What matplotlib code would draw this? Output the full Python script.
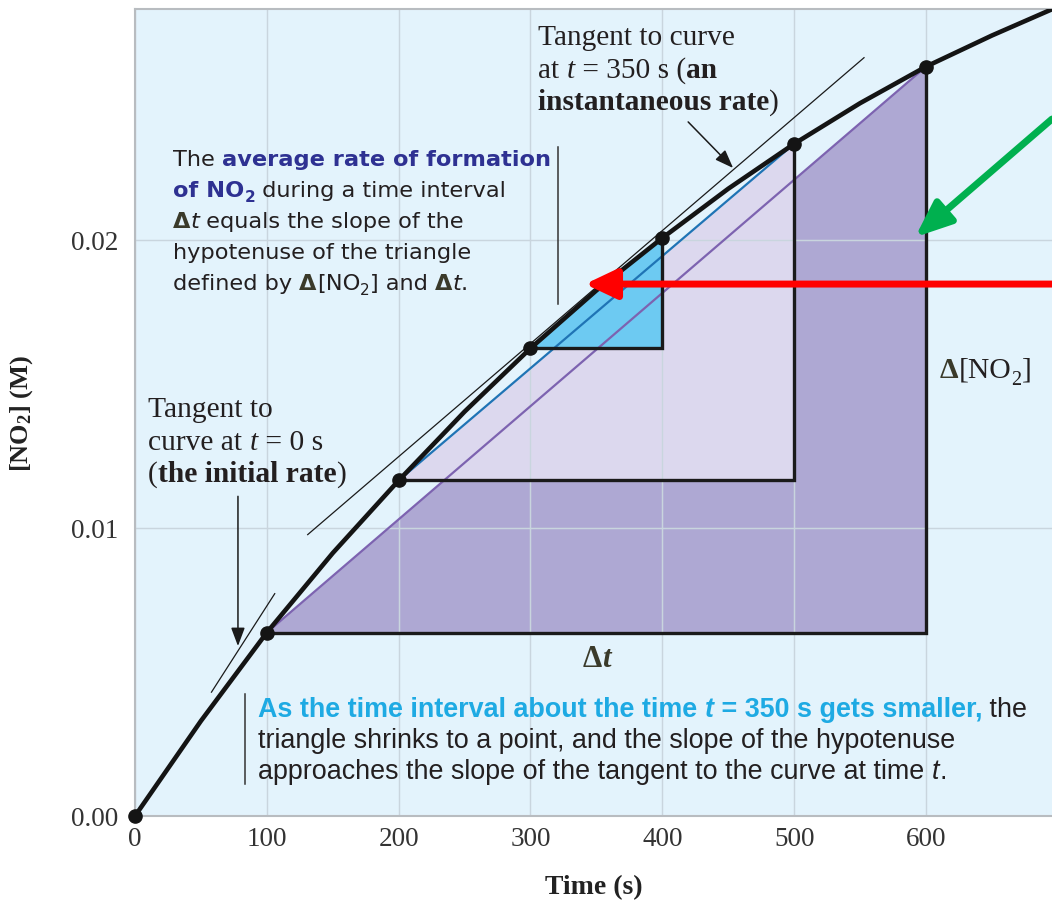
import matplotlib
matplotlib.use("Agg")
import matplotlib.pyplot as plt
from matplotlib.transforms import IdentityTransform

# ---------------- data ----------------
time_pts = [0, 100, 200, 300, 400, 500, 600]
no2_pts = [0.0, 0.00637, 0.01165, 0.01624, 0.02007, 0.02334, 0.02602]

curve_t = [0, 50, 100, 150, 200, 250, 300, 350, 400, 450, 500, 550, 600, 650, 700]
curve_c = [0.0, 0.0033, 0.00637, 0.00913, 0.01165, 0.01404, 0.01624, 0.01825, 0.02007,
           0.02178, 0.02334, 0.02475, 0.02602, 0.0271, 0.0281]

# triangles: (start index, end index) into time_pts/no2_pts
triangles = [(1, 6), (2, 5), (3, 4)]
tri_fill = ["#aea8d3", "#dcd8ee", "#6dcaf2"]
tri_hyp = ["#7d63b0", "#1f74b5", None]

# tangent lines
tan0_t = [58, 106]
tan0_c = [0.00430, 0.00772]
tan350_t = [131, 553]
tan350_c = [0.00977, 0.02633]

x_ticks = [0, 100, 200, 300, 400, 500, 600]
x_labels = ["0", "100", "200", "300", "400", "500", "600"]
y_ticks = [0.0, 0.01, 0.02]
y_labels = ["0.00", "0.01", "0.02"]

# ---------------- figure ----------------
W, H = 1052, 904
plt.rcParams["mathtext.fontset"] = "custom"
plt.rcParams["mathtext.rm"] = "Liberation Serif"
plt.rcParams["mathtext.bf"] = "Liberation Serif:bold"
plt.rcParams["mathtext.it"] = "Liberation Serif:italic"

fig = plt.figure(figsize=(W / 100, H / 100), dpi=100)
ax = fig.add_axes([135 / W, 87 / H, 917 / W, 807 / H])
BG = "#e3f3fc"
ax.set_facecolor(BG)
ax.set_xlim(0, 917 / 1.3183)
ax.set_ylim(0, 807 / 28800)

for s in ["left", "top", "bottom"]:
    ax.spines[s].set_color("#b8bcc0")
    ax.spines[s].set_linewidth(1.5)
ax.spines["right"].set_visible(False)

ax.set_xticks(x_ticks)
ax.set_xticklabels(x_labels)
ax.set_yticks(y_ticks)
ax.set_yticklabels(y_labels)
ax.tick_params(length=0, labelsize=19.5, colors="#333333")
ax.tick_params(axis="x", pad=7)
ax.tick_params(axis="y", pad=12)
for lab in ax.get_xticklabels() + ax.get_yticklabels():
    lab.set_family("Liberation Serif")
ax.grid(True, color="#c9d5de", lw=1.0)
for gl in ax.get_xgridlines() + ax.get_ygridlines():
    gl.set_zorder(0.5)
# faint grid showing through the filled triangles
for xt in x_ticks:
    ax.axvline(xt, color="#e8eef4", lw=1.0, alpha=0.25, zorder=1.5)
for yt in y_ticks:
    ax.axhline(yt, color="#e8eef4", lw=1.0, alpha=0.25, zorder=1.5)

ax.set_xlabel("Time (s)", family="Liberation Serif", weight="bold", size=20,
              color="#222222", labelpad=17)
ax.set_ylabel(r"[NO$_\mathbf{2}$] (M)", family="Liberation Serif", weight="bold",
              size=19, color="#222222", labelpad=26)

# triangles
for k, (i, j) in enumerate(triangles):
    xs = [time_pts[i], time_pts[j], time_pts[j]]
    ys = [no2_pts[i], no2_pts[i], no2_pts[j]]
    ax.fill(xs, ys, color=tri_fill[k], zorder=1 + 0.1 * k, lw=0)
for k, (i, j) in enumerate(triangles):
    if tri_hyp[k]:
        ax.plot([time_pts[i], time_pts[j]], [no2_pts[i], no2_pts[j]],
                color=tri_hyp[k], lw=1.6, zorder=2)
    ax.plot([time_pts[i], time_pts[j], time_pts[j]],
            [no2_pts[i], no2_pts[i], no2_pts[j]],
            color="#1a1a1a", lw=2.4, zorder=2.5, solid_joinstyle="miter")

# tangents
ax.plot(tan0_t, tan0_c, color="#1a1a1a", lw=0.9, zorder=2.6)
ax.plot(tan350_t, tan350_c, color="#1a1a1a", lw=0.9, zorder=2.6)

# curve + points
ax.plot(curve_t, curve_c, color="#141414", lw=3.3, zorder=3, solid_capstyle="round",
        solid_joinstyle="round")
ax.plot(time_pts, no2_pts, "o", color="#141414", ms=9.5, zorder=4, clip_on=False)

# ---------------- rich text helper ----------------
fig.canvas.draw()
R = fig.canvas.get_renderer()
IT = IdentityTransform()


def seg_props(opt, family, size):
    return dict(family=opt.get("f", family),
                size=size * (0.68 if opt.get("sub") else 1.0),
                weight="bold" if opt.get("b") else "normal",
                style="italic" if opt.get("i") else "normal")


def seg_w(s, props):
    t = fig.text(0, 0, s + "|", transform=IT, **props)
    w1 = t.get_window_extent(R).width
    t.set_text("|")
    w2 = t.get_window_extent(R).width
    t.remove()
    return w1 - w2


def line_w(segs, family, size):
    return sum(seg_w(s, seg_props(o, family, size)) for s, o in segs)


def draw_line(x, base_y, segs, family, size, color):
    cx = x
    for s, o in segs:
        p = seg_props(o, family, size)
        dy = 0.22 * size * 100 / 72 if o.get("sub") else 0.0
        fig.text(cx, H - base_y - dy, s, transform=IT, va="baseline", ha="left",
                 color=o.get("c", color), zorder=10, **p)
        cx += seg_w(s, p)


def draw_block(x, baselines, lines, family, ref_idx, ref_width, color):
    size = 10 * ref_width / line_w(lines[ref_idx], family, 10)
    for by, segs in zip(baselines, lines):
        draw_line(x, by, segs, family, size, color)
    return size


NAVY = "#2e3192"
CYAN = "#1eaae3"
TXT = "#231f20"
DK = "#3a3a2a"
N = {}
B = {"b": True}
I = {"i": True}

block1 = [
    [("The ", N), ("average rate of formation", dict(b=True, c=NAVY))],
    [("of NO", dict(b=True, c=NAVY)), ("2", dict(b=True, c=NAVY, sub=True)),
     (" during a time interval", N)],
    [("Δ", dict(b=True, c=DK)), ("t", I), (" equals the slope of the", N)],
    [("hypotenuse of the triangle", N)],
    [("defined by ", N), ("Δ", dict(b=True, c=DK)), ("[NO", N), ("2", dict(sub=True)),
     ("] and ", N), ("Δ", dict(b=True, c=DK)), ("t", I), (".", N)],
]
draw_block(173, [166, 197, 228, 259, 290], block1, "DejaVu Sans", 3, 299, TXT)

block2 = [
    [("As the time interval about the time ", dict(b=True, c=CYAN)),
     ("t", dict(b=True, i=True, c=CYAN)), (" = 350 s gets smaller,", dict(b=True, c=CYAN)),
     (" the", N)],
    [("triangle shrinks to a point, and the slope of the hypotenuse", N)],
    [("approaches the slope of the tangent to the curve at time ", N), ("t", I), (".", N)],
]
draw_block(258, [717, 748, 779], block2, "Liberation Sans", 1, 697, TXT)

block3 = [
    [("Tangent to curve", N)],
    [("at ", N), ("t", I), (" = 350 s (", N), ("an", B)],
    [("instantaneous rate", B), (")", N)],
]
draw_block(538, [45, 78, 110], block3, "Liberation Serif", 0, 197, TXT)

block4 = [
    [("Tangent to", N)],
    [("curve at ", N), ("t", I), (" = 0 s", N)],
    [("(", N), ("the initial rate", B), (")", N)],
]
draw_block(148, [417, 450, 482], block4, "Liberation Serif", 1, 175, TXT)

# delta labels
draw_block(940, [378], [[("Δ", dict(b=True, c=DK)), ("[NO", N), ("2", dict(sub=True)), ("]", N)]],
           "Liberation Serif", 0, 92, TXT)
draw_block(583, [667], [[("Δ", dict(b=True, c=DK)), ("t", dict(b=True, i=True, c=DK))]],
           "Liberation Serif", 0, 28, TXT)

# bars next to text blocks
ax.plot([321, 321], [0.02323, 0.01778], color="#333333", lw=1.1, zorder=5)
ax.plot([83.5, 83.5], [0.00424, 0.00111], color="#333333", lw=1.1, zorder=5)

# pointer arrows
thin = dict(arrowstyle="-|>,head_length=0.8,head_width=0.3", color="#1a1a1a", lw=1.1,
            shrinkA=0, shrinkB=0, mutation_scale=14)
ax.annotate("", xy=(453.7, 0.0225), xytext=(419.6, 0.0241), arrowprops=thin, zorder=6)
ax.annotate("", xy=(78.1, 0.0059), xytext=(78.1, 0.0111), arrowprops=thin, zorder=6)

red = dict(arrowstyle="-|>,head_length=0.95,head_width=0.45", color="#ff0000", lw=5,
           shrinkA=0, shrinkB=0, mutation_scale=20)
ax.annotate("", xy=(341.4, 0.01847), xytext=(1.0, 0.01847),
            textcoords=("axes fraction", "data"), arrowprops=red, zorder=7,
            annotation_clip=False)
green = dict(arrowstyle="-|>,head_length=1.1,head_width=0.45", color="#00b04f", lw=5,
             shrinkA=0, shrinkB=0, mutation_scale=20)
ax.annotate("", xy=(591.8, 0.0201), xytext=(1.0, 0.0242),
            textcoords=("axes fraction", "data"), arrowprops=green, zorder=7,
            annotation_clip=False)

fig.savefig("out.png", dpi=100, facecolor="white")
